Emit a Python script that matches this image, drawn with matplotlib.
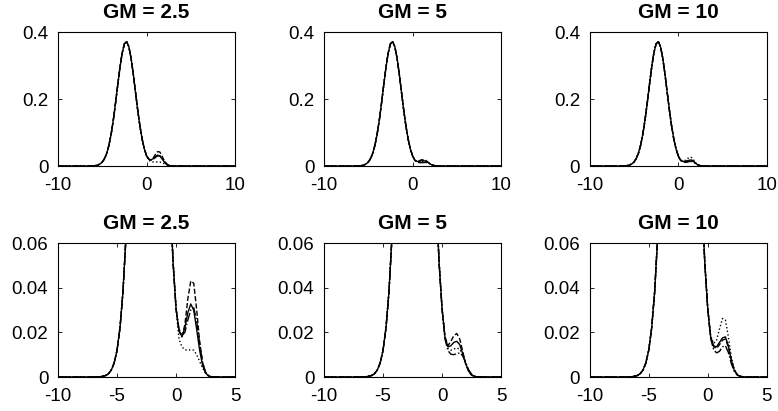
import numpy as np
import matplotlib
matplotlib.use('Agg')
import matplotlib.pyplot as plt

plt.rcParams['font.family'] = ['Liberation Sans', 'DejaVu Sans']

# main body of the density, shared by all curves (x <= 0)
x_base = [-10, -7.0, -6.5, -6.0, -5.75, -5.5, -5.25, -5.0, -4.75, -4.5, -4.25,
          -4.0, -3.75, -3.5, -3.25, -3.0, -2.75, -2.5, -2.25, -2.0, -1.75,
          -1.5, -1.25, -1.0, -0.75, -0.5, -0.25, 0.0]
y_base = [0.0, 0.00001, 0.00009, 0.00059, 0.00136, 0.00298, 0.00616, 0.01197,
          0.02197, 0.0380, 0.06195, 0.09525, 0.1381, 0.1886, 0.2430, 0.2951,
          0.3380, 0.3648, 0.3714, 0.3564, 0.3224, 0.2750, 0.2211, 0.1677,
          0.1198, 0.0808, 0.0513, 0.0307]

# right tail (second mode) for each curve
x_tail = [0.25, 0.5, 0.75, 1.0, 1.25, 1.5, 1.75, 2.0, 2.25, 2.5, 2.75, 3.0, 3.5, 10]

gm_titles = ['GM = 2.5', 'GM = 5', 'GM = 10']
line_styles = ['-', '--', '-.', ':']

tails = [
    # GM = 2.5
    [[0.0209, 0.0181, 0.0221, 0.0288, 0.0327, 0.0299, 0.0213, 0.0120, 0.0052, 0.0018, 0.0005, 0.0001, 0, 0],
     [0.0205, 0.0180, 0.0235, 0.0350, 0.0430, 0.0420, 0.0300, 0.0160, 0.0065, 0.0020, 0.0005, 0.0001, 0, 0],
     [0.0215, 0.0185, 0.0200, 0.0255, 0.0300, 0.0310, 0.0250, 0.0150, 0.0065, 0.0022, 0.0006, 0.0001, 0, 0],
     [0.0170, 0.0135, 0.0122, 0.0120, 0.0122, 0.0120, 0.0100, 0.0070, 0.0040, 0.0018, 0.0006, 0.0001, 0, 0]],
    # GM = 5
    [[0.0178, 0.0135, 0.0140, 0.0155, 0.0160, 0.0145, 0.0105, 0.0060, 0.0027, 0.0010, 0.0003, 0.0001, 0, 0],
     [0.0180, 0.0140, 0.0160, 0.0185, 0.0195, 0.0170, 0.0115, 0.0060, 0.0025, 0.0008, 0.0002, 0.0, 0, 0],
     [0.0170, 0.0118, 0.0102, 0.0100, 0.0105, 0.0108, 0.0095, 0.0065, 0.0033, 0.0013, 0.0004, 0.0001, 0, 0],
     [0.0175, 0.0128, 0.0120, 0.0125, 0.0130, 0.0125, 0.0100, 0.0062, 0.0030, 0.0011, 0.0003, 0.0001, 0, 0]],
    # GM = 10
    [[0.0180, 0.0140, 0.0135, 0.0155, 0.0175, 0.0180, 0.0140, 0.0075, 0.0030, 0.0010, 0.0003, 0.0001, 0, 0],
     [0.0178, 0.0135, 0.0128, 0.0145, 0.0165, 0.0170, 0.0135, 0.0075, 0.0032, 0.0011, 0.0003, 0.0001, 0, 0],
     [0.0172, 0.0122, 0.0108, 0.0115, 0.0135, 0.0140, 0.0110, 0.0060, 0.0025, 0.0009, 0.0003, 0.0001, 0, 0],
     [0.0185, 0.0150, 0.0165, 0.0215, 0.0262, 0.0255, 0.0180, 0.0090, 0.0035, 0.0010, 0.0003, 0.0001, 0, 0]],
]

top_xticks = [-10, 0, 10]
top_yticks = [0, 0.2, 0.4]
top_ylabels = ['0', '0.2', '0.4']
bot_xticks = [-10, -5, 0, 5]
bot_yticks = [0, 0.02, 0.04, 0.06]
bot_ylabels = ['0', '0.02', '0.04', '0.06']

fig = plt.figure(figsize=(7.78, 4.11), dpi=100)
lefts = [0.0746, 0.4165, 0.758]
w, h = 0.2275, 0.326
bottoms = [0.596, 0.0827]

for row in range(2):
    for col in range(3):
        ax = fig.add_axes((lefts[col], bottoms[row], w, h))
        for k, ls in enumerate(line_styles):
            xs = np.array(x_base + x_tail)
            ys = np.array(y_base + tails[col][k])
            ax.plot(xs, ys, color='k', linestyle=ls, linewidth=1.0)
        if row == 0:
            ax.set_xlim(-10, 10)
            ax.set_ylim(0, 0.4)
            ax.set_xticks(top_xticks)
            ax.set_xticklabels([str(v) for v in top_xticks])
            ax.set_yticks(top_yticks)
            ax.set_yticklabels(top_ylabels)
        else:
            ax.set_xlim(-10, 5)
            ax.set_ylim(0, 0.06)
            ax.set_xticks(bot_xticks)
            ax.set_xticklabels([str(v) for v in bot_xticks])
            ax.set_yticks(bot_yticks)
            ax.set_yticklabels(bot_ylabels)
        ax.set_title(gm_titles[col], fontsize=15, fontweight='bold', pad=10)
        ax.tick_params(direction='in', top=True, right=True, length=3,
                       width=0.6, labelsize=13.5)
        ax.tick_params(axis='x', pad=8)
        ax.tick_params(axis='y', pad=7)
        for s in ax.spines.values():
            s.set_linewidth(0.8)

plt.savefig('out.png', dpi=100)
